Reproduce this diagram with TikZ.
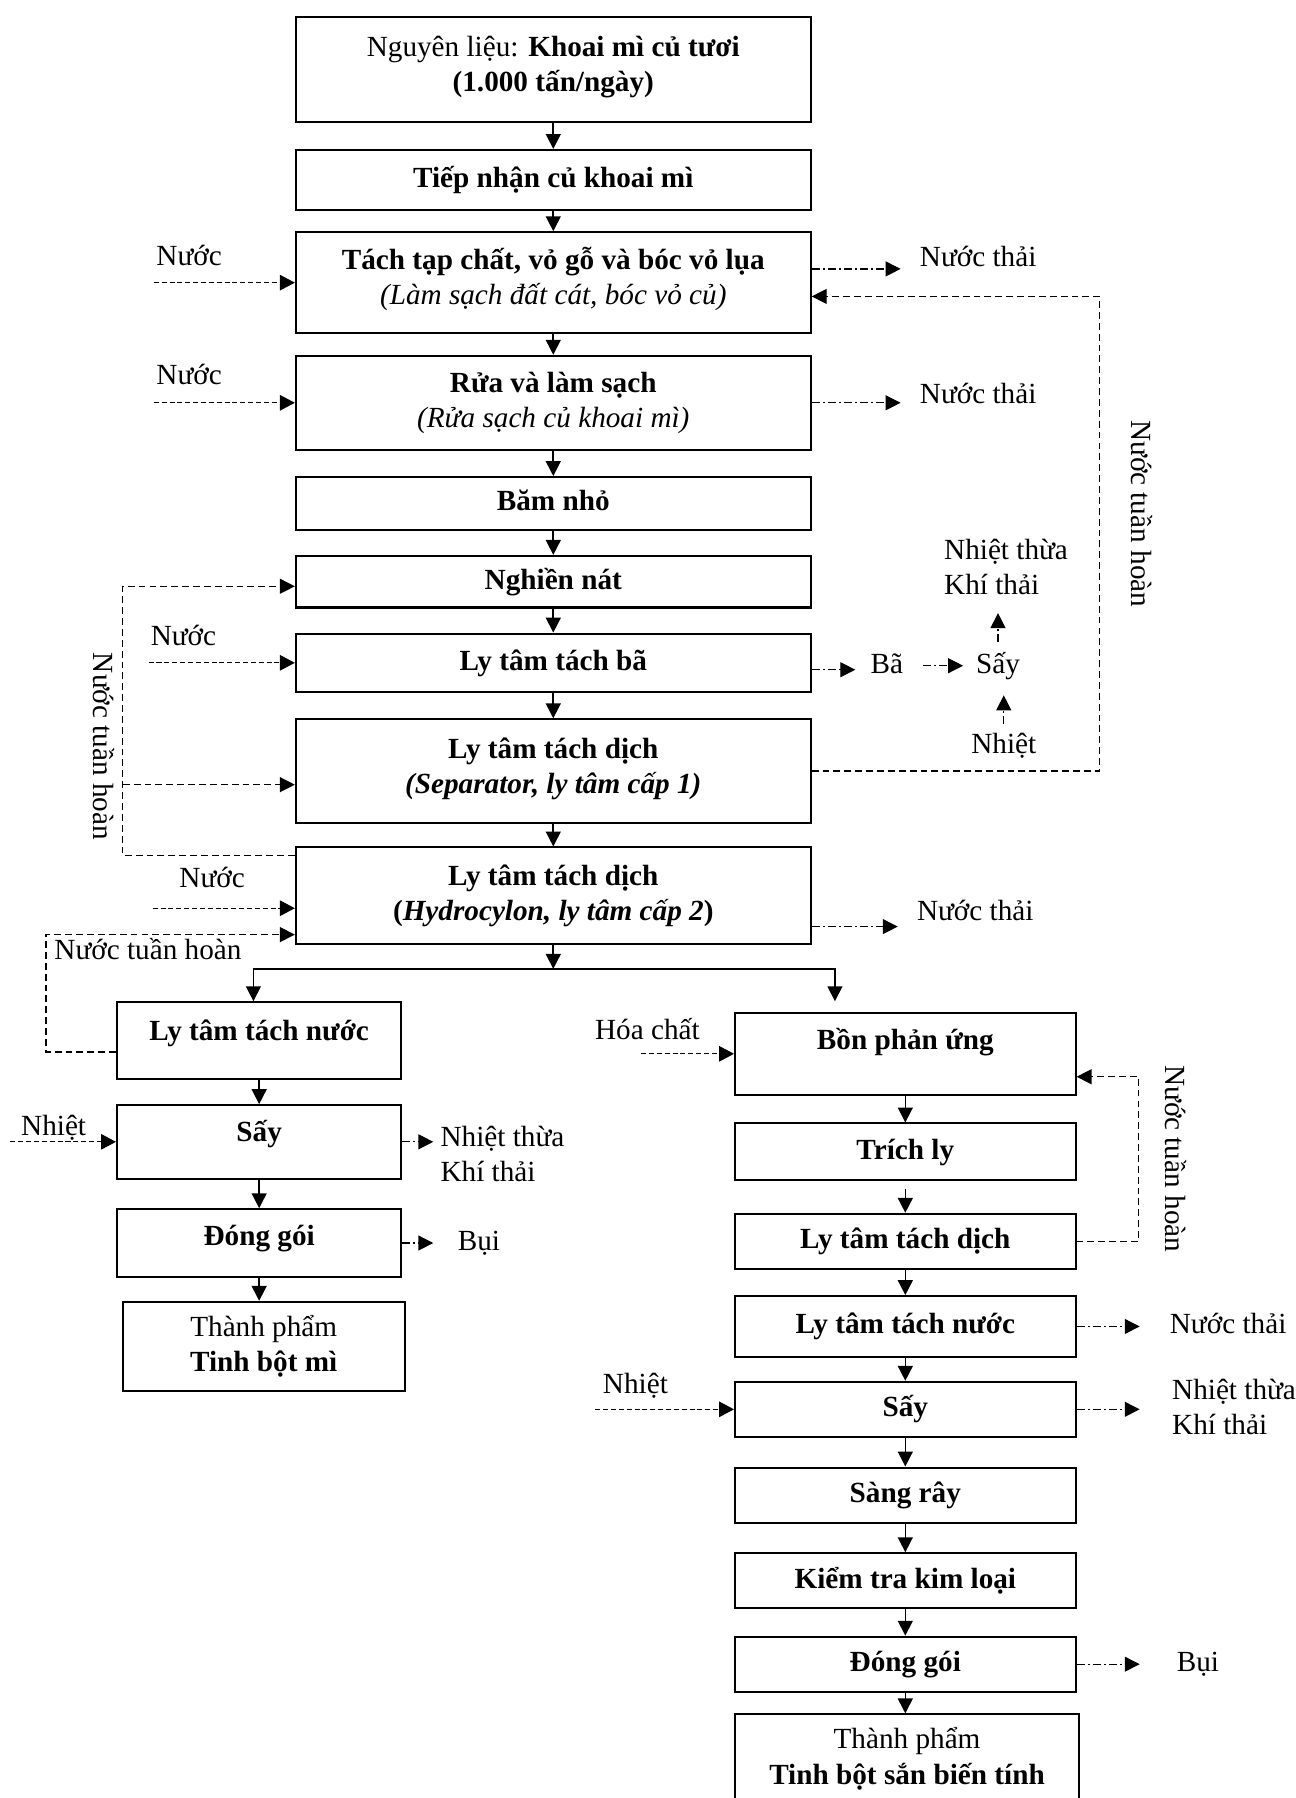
\documentclass[tikz,border=0pt]{standalone}
\usepackage{fontspec}
\setmainfont{Liberation Serif}
\usetikzlibrary{positioning,arrows.meta,calc}
\newcommand{\fsz}{\fontsize{14.5}{17.4}\selectfont}
\tikzset{
  proc/.style={rectangle, draw, line width=1pt, align=center, font=\fsz\bfseries,
               inner sep=2pt, text height=0.36cm, text depth=0.1cm},
  mainbox/.style={proc, minimum width=8.98cm},
  lbox/.style={proc, minimum width=4.96cm},
  rbox/.style={proc, minimum width=5.94cm},
  two/.style={text height=0.97cm},
  lift/.style={text depth=#1},
  lbl/.style={inner sep=0pt, align=left, font=\fsz, text height=0.36cm, text depth=0.1cm},
  flow/.style={-{Triangle[length=2.6mm,width=2.6mm]}, line width=0.8pt},
  inflow/.style={-{Triangle[length=2.6mm,width=2.7mm]}, line width=0.6pt, dash pattern=on 2.5pt off 1.4pt},
  outflow/.style={-{Triangle[length=2.6mm,width=2.6mm]}, line width=0.6pt, dash pattern=on 4pt off 1.5pt on 1pt off 1.5pt},
  recyc/.style={line width=0.6pt, dash pattern=on 3.4pt off 2pt},
  recin/.style={recyc, -{Triangle[length=2.6mm,width=2.6mm]}}
}
\begin{document}
\begin{tikzpicture}
\useasboundingbox (0,0) rectangle (22.6,-31.36);
\node[mainbox, two, minimum height=1.82cm, lift=0.2cm] (nl) at (9.65,-1.21) {{\mdseries Nguyên liệu:} Khoai mì củ tươi\\(1.000 tấn/ngày)};
\node[mainbox, minimum height=1.04cm, below=0.46cm of nl] (tiep) {Tiếp nhận củ khoai mì};
\node[mainbox, two, minimum height=1.76cm, lift=0.2cm, below=0.36cm of tiep] (tach) {Tách tạp chất, vỏ gỗ và bóc vỏ lụa\\{\mdseries\itshape (Làm sạch đất cát, bóc vỏ củ)}};
\node[mainbox, two, minimum height=1.64cm, below=0.36cm of tach] (rua) {Rửa và làm sạch\\{\mdseries\itshape (Rửa sạch củ khoai mì)}};
\node[mainbox, minimum height=0.92cm, below=0.44cm of rua] (bam) {Băm nhỏ};
\node[mainbox, minimum height=0.90cm, below=0.42cm of bam] (nghien) {Nghiền nát};
\node[mainbox, minimum height=1.02cm, below=0.42cm of nghien] (ltba) {Ly tâm tách bã};
\node[mainbox, two, minimum height=1.80cm, lift=0.17cm, below=0.44cm of ltba] (sep) {Ly tâm tách dịch\\{\itshape (Separator, ly tâm cấp 1)}};
\node[mainbox, two, minimum height=1.68cm, below=0.40cm of sep] (hydro) {Ly tâm tách dịch\\(\textit{Hydrocylon, ly tâm cấp 2})};
\draw[flow] (nl) -- (tiep); \draw[flow] (tiep) -- (tach); \draw[flow] (tach) -- (rua);
\draw[flow] (rua) -- (bam); \draw[flow] (bam) -- (nghien); \draw[flow] (nghien) -- (ltba);
\draw[flow] (ltba) -- (sep); \draw[flow] (sep) -- (hydro);

\node[lbox, minimum height=1.34cm, lift=0.36cm] (lnuoc) at (4.52,-18.15) {Ly tâm tách nước};
\node[lbox, minimum height=1.28cm, lift=0.38cm, below=0.42cm of lnuoc] (lsay) {Sấy};
\node[lbox, minimum height=1.18cm, lift=0.28cm, below=0.50cm of lsay] (lgoi) {Đóng gói};
\node[lbox, two, minimum width=4.92cm, minimum height=1.56cm, below=0.40cm of lgoi, xshift=0.08cm] (ltp) {{\mdseries Thành phẩm}\\Tinh bột mì};
\draw[flow] (lnuoc) -- (lsay); \draw[flow] (lsay) -- (lgoi); \draw[flow] (lgoi.south) -- (lgoi.south |- ltp.north);

\node[rbox, minimum height=1.44cm, lift=0.52cm] (bon) at (15.79,-18.38) {Bồn phản ứng};
\node[rbox, minimum height=0.98cm, below=0.46cm of bon] (trich) {Trích ly};
\node[rbox, minimum height=0.96cm, below=0.56cm of trich] (rtd) {Ly tâm tách dịch};
\node[rbox, minimum height=1.06cm, below=0.44cm of rtd] (rnuoc) {Ly tâm tách nước};
\node[rbox, minimum height=0.96cm, below=0.40cm of rnuoc] (rsay) {Sấy};
\node[rbox, minimum height=0.96cm, below=0.50cm of rsay] (sang) {Sàng rây};
\node[rbox, minimum height=0.96cm, below=0.50cm of sang] (kiem) {Kiểm tra kim loại};
\node[rbox, minimum height=0.96cm, below=0.46cm of kiem] (rgoi) {Đóng gói};
\node[rbox, two, minimum width=6.0cm, minimum height=1.56cm, below=0.36cm of rgoi, xshift=0.03cm] (rtp) {{\mdseries Thành phẩm}\\Tinh bột sắn biến tính};
\draw[flow] (bon) -- (trich); \draw[flow, shorten <=0.15cm] (trich) -- (rtd); \draw[flow] (rtd) -- (rnuoc);
\draw[flow] (rnuoc) -- (rsay); \draw[flow] (rsay) -- (sang); \draw[flow] (sang) -- (kiem);
\draw[flow] (kiem) -- (rgoi); \draw[flow] (rgoi.south) -- (rgoi.south |- rtp.north);

\coordinate[below=0.42cm of hydro] (split);
\draw[flow] (hydro) -- (split);
\draw[flow] (split) -| ([xshift=-0.1cm]lnuoc.north);
\draw[flow, shorten >=0.18cm] (split) -| ([xshift=1.76cm]bon.north west);

\coordinate[left=2.46cm of tach.west] (wtach);
\draw[inflow] (wtach) -- (tach.west);
\node[lbl, above right=0.19cm and 0.04cm of wtach] (ntach) {Nước};
\coordinate[left=2.46cm of rua.west] (wrua);
\draw[inflow] (wrua) -- (rua.west);
\node[lbl, above right=0.21cm and 0.04cm of wrua] (nrua) {Nước};
\coordinate[left=2.55cm of ltba.west] (wltba);
\draw[inflow] (wltba) -- (ltba.west);
\node[lbl, above right=0.19cm and 0.03cm of wltba] (nltba) {Nước};
\coordinate[left=2.48cm of hydro.west, yshift=-0.22cm] (whydro);
\draw[inflow] (whydro) -- (whydro -| hydro.west);
\node[lbl, above right=0.25cm and 0.46cm of whydro] (nhydro) {Nước};

\coordinate[yshift=0.24cm] (otach) at (tach.east);
\draw[outflow] (otach) -- ++(1.55,0) coordinate (etach);
\node[lbl, right=0.33cm of etach, yshift=0.18cm] (nttach) {Nước thải};
\draw[outflow] (rua.east) -- ++(1.55,0) coordinate (erua);
\node[lbl, right=0.33cm of erua, yshift=0.12cm] (ntrua) {Nước thải};
\coordinate[yshift=-0.54cm] (ohydro) at (hydro.east);
\draw[outflow] (ohydro) -- ++(1.5,0) coordinate (ehydro);
\node[lbl, right=0.33cm of ehydro, yshift=0.24cm] (nthydro) {Nước thải};

\coordinate[yshift=-0.24cm] (tachin) at (tach.east);
\draw[recin] (sep.east) -- ++(5.02,0) |- (tachin);
\node[lbl, rotate=-90] (nthR) at (19.86,-8.96) {Nước tuần hoàn};

\coordinate[yshift=0.70cm] (hydrotop) at (hydro.west);
\coordinate[yshift=-0.08cm] (nghienin) at (nghien.west);
\coordinate[yshift=-0.24cm] (sepin) at (sep.west);
\draw[recin] (hydrotop) -- ++(-3.0,0) coordinate (lcorner) |- (nghienin);
\draw[recin] (lcorner |- sepin) -- (sepin);
\node[lbl, rotate=-90] (nthL) at (1.76,-13.02) {Nước tuần hoàn};

\coordinate[yshift=-0.20cm] (lnuocout) at (lnuoc.west);
\coordinate[yshift=-0.68cm] (hydroin) at (hydro.west);
\draw[recin] (lnuocout) -- ++(-1.22,0) coordinate (lc2) |- (hydroin);
\coordinate (lc3) at (lc2 |- hydroin);
\node[lbl, below right=0.07cm and 0.14cm of lc3] (nthB) {Nước tuần hoàn};

\coordinate[yshift=-0.12cm] (oltba) at (ltba.east);
\draw[outflow] (oltba) -- ++(0.76,0) coordinate (eltba);
\node[lbl, right=0.26cm of eltba, yshift=0.07cm] (ba) {Bã};
\node[lbl, right=1.26cm of ba] (saybx) {Sấy};
\draw[outflow, shorten <=0.34cm, shorten >=0.22cm] (ba) -- (saybx);
\node[lbl, two, above=0.9cm of saybx, xshift=0.14cm] (ntkt1) {Nhiệt thừa\\Khí thải};
\draw[outflow, shorten <=0.18cm, shorten >=0.22cm] (saybx.north) -- (saybx.north |- ntkt1.south);
\node[lbl, below=0.92cm of saybx, xshift=0.1cm] (nhiet1) {Nhiệt};
\draw[outflow, shorten <=0.14cm, shorten >=0.28cm] (nhiet1.north) -- (nhiet1.north |- saybx.south);

\coordinate[left=1.84cm of lsay.west] (wlsay);
\draw[inflow] (wlsay) -- (lsay.west);
\node[lbl, above right=0cm and 0.18cm of wlsay] (nhiet2) {Nhiệt};
\draw[outflow] (lsay.east) -- ++(0.54,0) coordinate (elsay);
\node[lbl, two, right=0.12cm of elsay, yshift=-0.25cm] (ntkt2) {Nhiệt thừa\\Khí thải};
\draw[outflow] (lgoi.east) -- ++(0.54,0) coordinate (elgoi);
\node[lbl, right=0.42cm of elgoi] (bui1) {Bụi};

\coordinate[left=1.62cm of bon.west] (wbon);
\draw[inflow] (wbon) -- (bon.west);
\node[lbl, above=0.15cm of wbon, xshift=0.11cm] (hoachat) {Hóa chất};
\coordinate[yshift=-0.40cm] (bonin) at (bon.east);
\draw[recin] (rtd.east) -- ++(1.08,0) |- (bonin);
\node[lbl, rotate=-90] (nthR2) at (20.46,-20.21) {Nước tuần hoàn};
\draw[outflow] (rnuoc.east) -- ++(1.1,0) coordinate (ernuoc);
\node[lbl, right=0.52cm of ernuoc] (ntr) {Nước thải};
\coordinate[left=2.42cm of rsay.west] (wrsay);
\draw[inflow] (wrsay) -- (rsay.west);
\node[lbl, above=0.17cm of wrsay, xshift=0.7cm] (nhiet3) {Nhiệt};
\draw[outflow] (rsay.east) -- ++(1.1,0) coordinate (ersay);
\node[lbl, two, right=0.56cm of ersay] (ntkt3) {Nhiệt thừa\\Khí thải};
\draw[outflow] (rgoi.east) -- ++(1.1,0) coordinate (ergoi);
\node[lbl, right=0.64cm of ergoi] (bui2) {Bụi};
\end{tikzpicture}
\end{document}
